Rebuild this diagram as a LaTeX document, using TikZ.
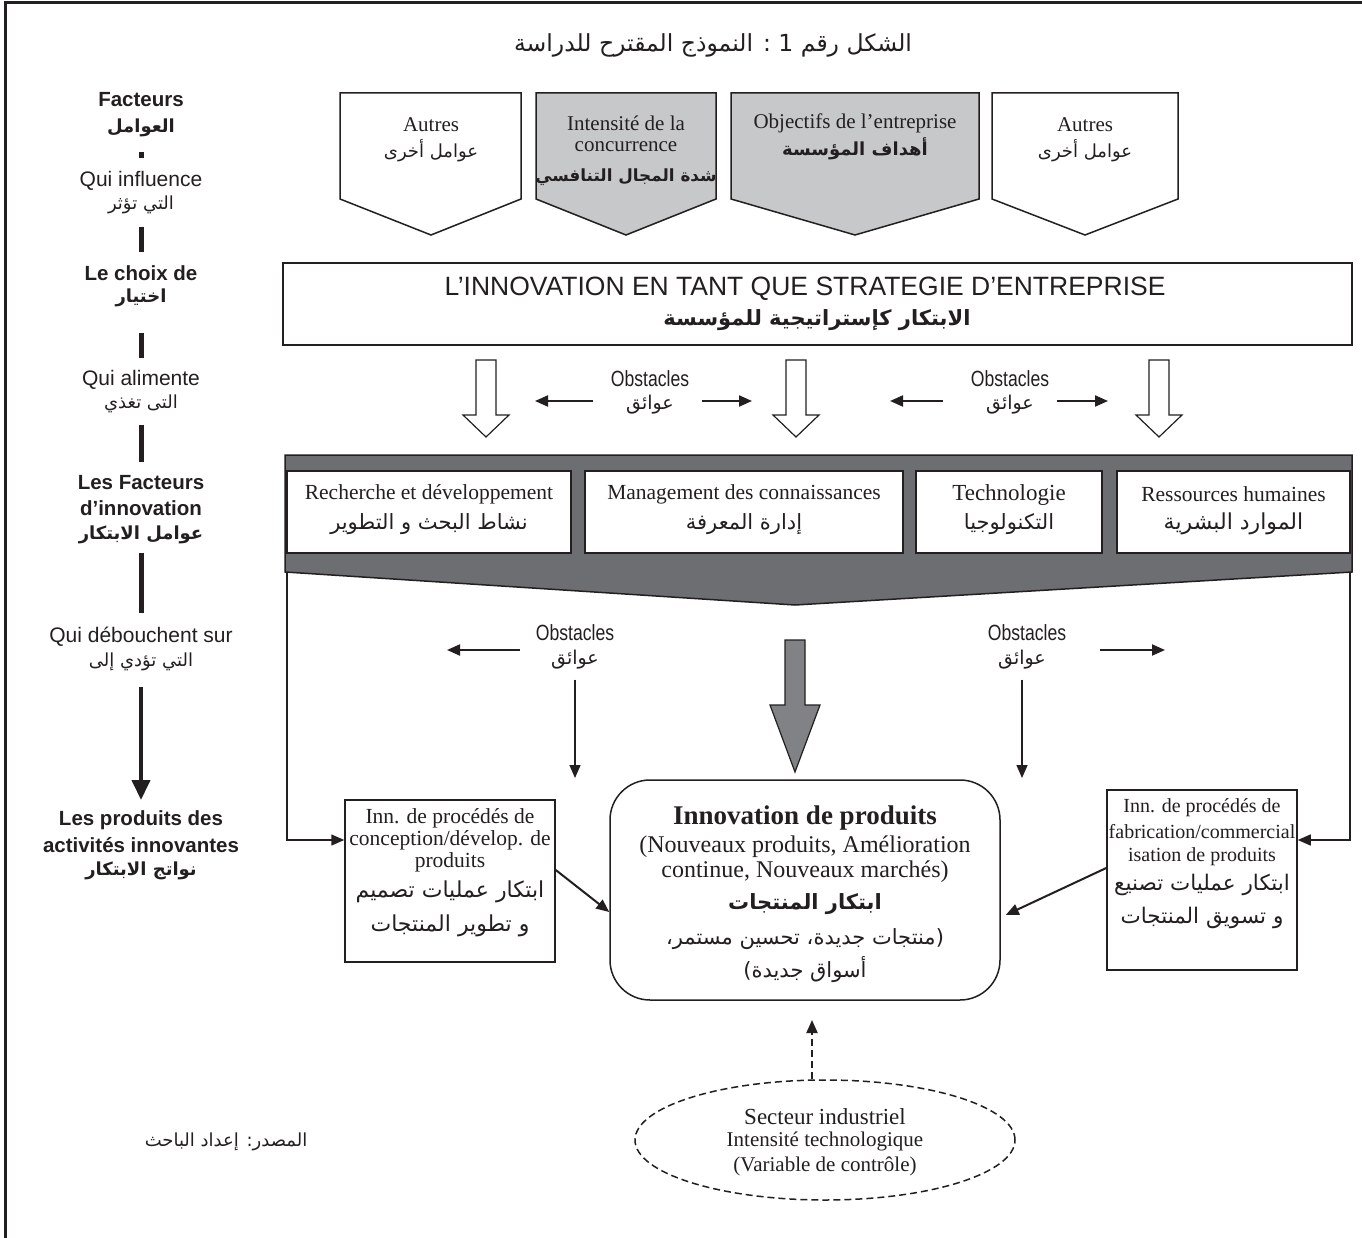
\documentclass[tikz,border=0pt]{standalone}
\usepackage{fontspec}
\setmainfont{Liberation Serif}
\newfontfamily\sansf{Liberation Sans}
\newfontfamily\sansn{Liberation Sans}[FakeStretch=0.8]
\newfontfamily\arabicfont[Script=Arabic]{DejaVu Sans}
\TeXXeTstate=1
\usetikzlibrary{arrows.meta,shapes.geometric}
\newcommand\rl[1]{\beginR #1\endR}
\definecolor{ink}{HTML}{231F20}
\definecolor{lightg}{HTML}{C7C8CA}
\definecolor{darkg}{HTML}{6D6E71}
\definecolor{midg}{HTML}{808285}
\tikzset{
  txt/.style={inner sep=0pt, anchor=center, text=ink},
  ser/.style={txt, font=\fontsize{21}{23}\selectfont},
  serb/.style={txt, font=\bfseries\fontsize{27}{29}\selectfont},
  sans/.style={txt, font=\sansf\fontsize{21}{23}\selectfont},
  sansb/.style={txt, font=\sansf\bfseries\fontsize{20.5}{23}\selectfont},
  obst/.style={txt, font=\sansn\fontsize{22}{24}\selectfont},
  ar/.style={txt, font=\arabicfont\fontsize{18}{20}\selectfont},
  arb/.style={txt, font=\arabicfont\bfseries\fontsize{18}{20}\selectfont},
  arbig/.style={txt, font=\arabicfont\fontsize{22}{24}\selectfont},
  outline/.style={draw=ink, line width=1.5pt},
  bar/.style={draw=ink, line width=5pt},
  thinarrow/.style={draw=ink, line width=1.5pt, -{Triangle[length=13pt,width=11pt]}},
  hollow/.style={outline, fill=white, line width=1.2pt}
}
\begin{document}
\begin{tikzpicture}[x=1pt,y=-1pt]
\useasboundingbox (0,0) rectangle (1362,1238);
\fill[white] (0,0) rectangle (1362,1238);
% frame
\draw[ink, line width=3pt] (5,1238) -- (5,3) -- (1362,3);

% title
\node[ar, font=\arabicfont\fontsize{23.5}{26}\selectfont] (title) at (713,45) {\rl{الشكل رقم 1 : النموذج المقترح للدراسة}};

% ---- left column: reading guide ----
\node[sansb] (g1) at (141,100) {Facteurs};
\node[arb]   (g2) at (141,128) {\rl{العوامل}};
\draw[bar] (141,152) -- (141,158);
\node[sans]  (g3) at (141,181) {Qui influence};
\node[ar]    (g4) at (141,205) {\rl{التي تؤثر}};
\draw[bar] (141,227) -- (141,252);
\node[sansb] (g5) at (141,273) {Le choix de};
\node[arb]   (g6) at (141,298) {\rl{اختيار}};
\draw[bar] (141,333) -- (141,358);
\node[sans]  (g7) at (141,380) {Qui alimente};
\node[ar]    (g8) at (141,404) {\rl{التى تغذي}};
\draw[bar] (141,425) -- (141,462);
\node[sansb] (g9) at (141,483) {Les Facteurs};
\node[sansb] (g10) at (141,508) {d’innovation};
\node[arb]   (g11) at (141,535) {\rl{عوامل الابتكار}};
\draw[bar] (141,553) -- (141,613);
\node[sans]  (g12) at (141,637) {Qui débouchent sur};
\node[ar]    (g13) at (141,662) {\rl{التي تؤدي إلى}};
\draw[draw=ink, line width=4pt, -{Triangle[length=20pt,width=18pt]}] (141,687) -- (141,800);
\node[sansb] (g14) at (141,820) {Les produits des};
\node[sansb] (g15) at (141,845) {activités innovantes};
\node[arb]   (g16) at (141,871) {\rl{نواتج الابتكار}};

% ---- influencing factors (pentagon arrows) ----
\draw[outline, fill=white]  (340,93) -- (521,93) -- (521,199) -- (431,235) -- (340,199) -- cycle;
\draw[outline, fill=lightg] (536,93) -- (716,93) -- (716,199) -- (626,235) -- (536,199) -- cycle;
\draw[outline, fill=lightg] (731,93) -- (979,93) -- (979,199) -- (855,235) -- (731,199) -- cycle;
\draw[outline, fill=white]  (992,93) -- (1178,93) -- (1178,199) -- (1085,235) -- (992,199) -- cycle;
\node[ser] (p1a) at (431,125) {Autres};
\node[ar]  (p1b) at (431,151) {\rl{عوامل أخرى}};
\node[ser] (p2a) at (626,123) {Intensité de la};
\node[ser] (p2b) at (626,147) {concurrence};
\node[arb, font=\arabicfont\bfseries\fontsize{16.8}{20}\selectfont] (p2c) at (626,177) {\rl{شدة المجال التنافسي}};
\node[ser] (p3a) at (855,123) {Objectifs de l’entreprise};
\node[arb] (p3b) at (855,149) {\rl{أهداف المؤسسة}};
\node[ser] (p4a) at (1085,125) {Autres};
\node[ar]  (p4b) at (1085,151) {\rl{عوامل أخرى}};

% ---- strategy box ----
\node[outline, minimum width=1069pt, minimum height=82pt, inner sep=0pt] (strat) at (817.5,304) {};
\node[sans, font=\sansf\fontsize{26.5}{28}\selectfont] (s1) at (805,289) {L’INNOVATION EN TANT QUE STRATEGIE D’ENTREPRISE};
\node[arb, font=\arabicfont\bfseries\fontsize{21}{24}\selectfont] (s2) at (817,320) {\rl{الابتكار كإستراتيجية للمؤسسة}};

% ---- hollow down arrows ----
\foreach \cx in {486,796,1159}{
  \draw[hollow] (\cx-10,360) -- (\cx+10,360) -- (\cx+10,415) -- (\cx+23,415) -- (\cx,437)
     -- (\cx-23,415) -- (\cx-10,415) -- cycle;
}
\node[obst] (o1a) at (650,379) {Obstacles};
\node[ar, font=\arabicfont\fontsize{19}{21}\selectfont] (o1b) at (650,405) {\rl{عوائق}};
\node[obst] (o2a) at (1010,379) {Obstacles};
\node[ar, font=\arabicfont\fontsize{19}{21}\selectfont] (o2b) at (1010,405) {\rl{عوائق}};
\coordinate (o1l) at (535,401); \coordinate (o1r) at (752,401);
\coordinate (o2l) at (890,401); \coordinate (o2r) at (1108,401);
\draw[thinarrow, line width=2pt] ([xshift=-57pt]o1b.center |- o1l) -- (o1l);
\draw[thinarrow, line width=2pt] ([xshift=52pt]o1b.center |- o1r) -- (o1r);
\draw[thinarrow, line width=2pt] ([xshift=-67pt]o2b.center |- o2l) -- (o2l);
\draw[thinarrow, line width=2pt] ([xshift=47pt]o2b.center |- o2r) -- (o2r);

% ---- innovation factors panel ----
\draw[outline, fill=darkg] (285,455) -- (1352,455) -- (1352,572) -- (795,605) -- (285,572) -- cycle;
\node[outline, fill=white, minimum width=284pt, minimum height=82pt, inner sep=0pt] (fa) at (429,512) {};
\node[outline, fill=white, minimum width=318pt, minimum height=82pt, inner sep=0pt] (fb) at (744,512) {};
\node[outline, fill=white, minimum width=186pt, minimum height=82pt, inner sep=0pt] (fc) at (1009,512) {};
\node[outline, fill=white, minimum width=233pt, minimum height=82pt, inner sep=0pt] (fd) at (1233.5,512) {};
\node[ser, font=\fontsize{21.5}{23}\selectfont] (fa1) at (fa.center |- 0,494) {Recherche et développement};
\node[ar, font=\arabicfont\fontsize{21}{23}\selectfont] (fa2) at (fa.center |- 0,524) {\rl{نشاط البحث و التطوير}};
\node[ser, font=\fontsize{21.5}{23}\selectfont] (fb1) at (fb.center |- 0,494) {Management des connaissances};
\node[ar, font=\arabicfont\fontsize{21}{23}\selectfont] (fb2) at (fb.center |- 0,524) {\rl{إدارة المعرفة}};
\node[ser, font=\fontsize{23}{25}\selectfont] (fc1) at (fc.center |- 0,495) {Technologie};
\node[ar, font=\arabicfont\fontsize{21}{23}\selectfont] (fc2) at (fc.center |- 0,524) {\rl{التكنولوجيا}};
\node[ser, font=\fontsize{21.5}{23}\selectfont] (fd1) at (fd.center |- 0,494) {Ressources humaines};
\node[ar, font=\arabicfont\fontsize{22}{24}\selectfont] (fd2) at (fd.center |- 0,524) {\rl{الموارد البشرية}};

% ---- obstacles between factors and outputs ----
\node[obst] (o3a) at (575,633) {Obstacles};
\node[ar, font=\arabicfont\fontsize{19}{21}\selectfont] (o3b) at (575,660) {\rl{عوائق}};
\node[obst] (o4a) at (1027,633) {Obstacles};
\node[ar, font=\arabicfont\fontsize{19}{21}\selectfont] (o4b) at (1022,660) {\rl{عوائق}};
\coordinate (o3l) at (447,650); \coordinate (o4r) at (1165,650);
\draw[thinarrow, line width=2pt] (520,650) -- (o3l);
\draw[thinarrow, line width=2pt] (1100,650) -- (o4r);
\coordinate (o3d) at (575,778); \coordinate (o4d) at (1022,778);
\draw[thinarrow, line width=1.5pt] (o3b.south) ++(0,10) -- (o3d);
\draw[thinarrow, line width=1.5pt] (o4b.south) ++(0,10) -- (o4d);

% central grey block arrow
\draw[outline, fill=midg, line width=1.2pt] (785,640) -- (805,640) -- (805,705) -- (820,705) -- (795,772)
   -- (770,705) -- (785,705) -- cycle;

% ---- outputs ----
\node[outline, minimum width=210pt, minimum height=162pt, inner sep=0pt] (lbox) at (450,881) {};
\node[outline, rounded corners=40pt, minimum width=390pt, minimum height=220pt, inner sep=0pt] (cbox) at (805,890) {};
\node[outline, minimum width=190pt, minimum height=180pt, inner sep=0pt] (rbox) at (1202,880) {};

\node[ser, font=\fontsize{21.5}{23}\selectfont] (l1) at (450,818) {Inn. de procédés de};
\node[ser, font=\fontsize{21.5}{23}\selectfont] (l2) at (450,840) {conception/dévelop. de};
\node[ser, font=\fontsize{21.5}{23}\selectfont] (l3) at (450,862) {produits};
\node[arbig] (l4) at (450,892) {\rl{ابتكار عمليات تصميم}};
\node[arbig] (l5) at (450,926) {\rl{و تطوير المنتجات}};

\node[serb] (c1) at (805,818) {Innovation de produits};
\node[ser, font=\fontsize{24}{26}\selectfont] (c2) at (805,847) {(Nouveaux produits, Amélioration};
\node[ser, font=\fontsize{24}{26}\selectfont] (c3) at (805,872) {continue, Nouveaux marchés)};
\node[arb, font=\arabicfont\bfseries\fontsize{21}{23}\selectfont] (c4) at (805,904) {\rl{ابتكار المنتجات}};
\node[ar, font=\arabicfont\fontsize{21}{23}\selectfont] (c5) at (805,939) {\rl{(منتجات جديدة، تحسين مستمر،}};
\node[ar, font=\arabicfont\fontsize{21}{23}\selectfont] (c6) at (805,970) {\rl{أسواق جديدة)}};

\node[ser, font=\fontsize{20}{22}\selectfont] (r1) at (1202,808) {Inn. de procédés de};
\node[ser, font=\fontsize{20}{22}\selectfont] (r2) at (1202,832) {fabrication/commercial};
\node[ser, font=\fontsize{20}{22}\selectfont] (r3) at (1202,857) {isation de produits};
\node[arbig, font=\arabicfont\fontsize{21.5}{24}\selectfont] (r4) at (1202,885) {\rl{ابتكار عمليات تصنيع}};
\node[arbig, font=\arabicfont\fontsize{21.5}{24}\selectfont] (r5) at (1202,918) {\rl{و تسويق المنتجات}};

% side feeds from the panel to the process boxes
\coordinate (lk) at (287,840);
\coordinate (rk) at (1350,840);
\draw[thinarrow, line width=1.5pt] (287,572) -- (lk) -- (lk -| lbox.west);
\draw[thinarrow, line width=1.5pt] (1350,572) -- (rk) -- (rk -| rbox.east);

% process innovations feed product innovation
\draw[thinarrow, line width=2pt] (lbox.east |- 0,870) -- (cbox.west |- 0,912);
\draw[thinarrow, line width=2pt] (rbox.west |- 0,868) -- ([xshift=5pt]cbox.east |- 0,915);

% ---- control variable ----
\node[draw=ink, line width=1.5pt, dash pattern=on 7pt off 4pt, ellipse, minimum width=380pt, minimum height=120pt, inner sep=0pt] (sect) at (825,1140) {};
\node[ser, font=\fontsize{23}{25}\selectfont] (e1) at (825,1117) {Secteur industriel};
\node[ser, font=\fontsize{21}{23}\selectfont] (e2) at (825,1141) {Intensité technologique};
\node[ser, font=\fontsize{21}{23}\selectfont] (e3) at (825,1166) {(Variable de contrôle)};
\coordinate (dtip) at (812,1020);
\draw[draw=ink, line width=2pt, dash pattern=on 7pt off 4pt, -{Triangle[length=13pt,width=11pt]}] ([xshift=-13pt]sect.north) -- (dtip);

% source
\node[ar] (src) at (226,1142) {\rl{المصدر: إعداد الباحث}};
\end{tikzpicture}
\end{document}
